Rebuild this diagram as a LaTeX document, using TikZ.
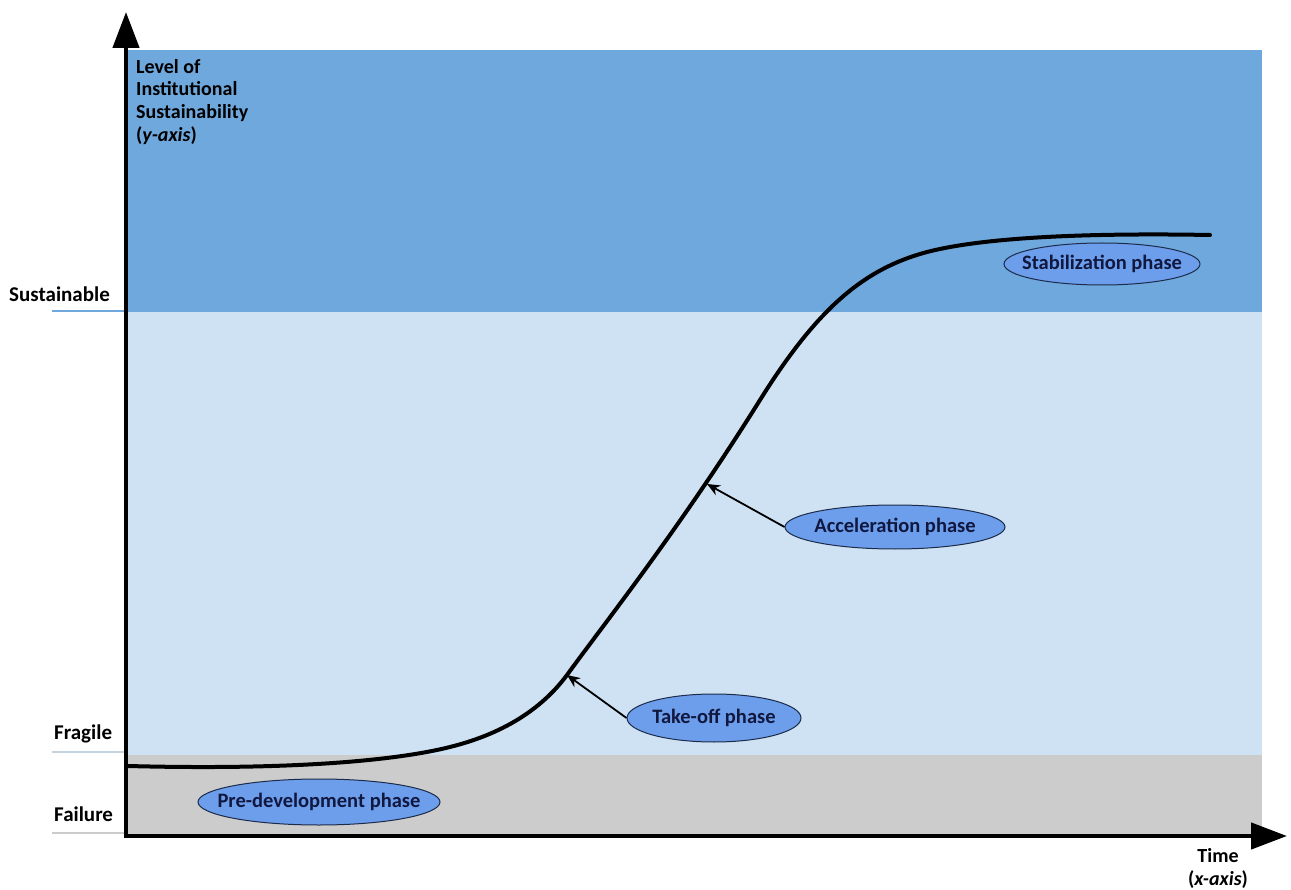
\documentclass[tikz,border=0pt]{standalone}
\usepackage{fontspec}
\setmainfont{Carlito}
\usetikzlibrary{shapes.geometric,arrows.meta}
\definecolor{darkband}{HTML}{6FA8DC}
\definecolor{lightband}{HTML}{CFE2F3}
\definecolor{grayband}{HTML}{CCCCCC}
\definecolor{ellfill}{HTML}{6D9EEB}
\definecolor{ellline}{HTML}{1C2B4A}
\definecolor{elltext}{HTML}{101840}
\newcommand\phtext[1]{\makebox[0pt]{#1}}
\begin{document}
\begin{tikzpicture}[x=1pt,y=-1pt,
  phase/.style={ellipse,draw=ellline,line width=1pt,fill=ellfill,inner sep=0pt,
    font=\fontsize{20.5}{24}\selectfont\bfseries,text=elltext},
  lvl/.style={font=\fontsize{21}{24}\selectfont\bfseries,anchor=west,inner sep=0pt},
  axis/.style={line width=4.5pt,-{Triangle[width=26pt,length=36pt]}},
  pointer/.style={line width=1.8pt,-{Stealth[width=11pt,length=13pt]}}]
\useasboundingbox (0,0) rectangle (1291,890);
% bands
\fill[darkband] (128,50) rectangle (1262,312);
\fill[lightband] (128,312) rectangle (1262,755);
\fill[grayband] (128,755) rectangle (1262,834);
% level ticks
\coordinate (ts1) at (52,311); \coordinate (ts2) at (124,311);
\coordinate (tf1) at (52,752); \coordinate (tf2) at (124,752);
\coordinate (tl1) at (52,833); \coordinate (tl2) at (124,833);
\draw[darkband,line width=2pt] (ts1) -- (ts2);
\draw[lightband!85!gray,line width=2pt] (tf1) -- (tf2);
\draw[grayband,line width=2pt] (tl1) -- (tl2);
\node[lvl] (sust) at (9,294) {Sustainable};
\node[lvl] (frag) at (54,734) {Fragile};
\node[lvl] (fail) at (54,814) {Failure};
% axes
\coordinate (ytip) at (126,12);
\coordinate (xtip) at (1287,836);
\draw[axis] (126,838) -- (ytip);
\draw[axis] (124,836) -- (xtip);
% axis labels
\node[font=\fontsize{20}{22.7}\selectfont\bfseries,align=left,anchor=north west,inner sep=0pt] (ylab) at (136,59)
  {Level of\\Institutional\\Sustainability\\(\textit{y-axis})};
\node[font=\fontsize{20}{23}\selectfont\bfseries,align=center,anchor=north,inner sep=0pt] (xlab) at (1218,848)
  {Time\\(\textit{x-axis})};
% curve
\coordinate (c0) at (128,766);
\coordinate (c1) at (450,747);
\coordinate (tko) at (567,675);
\coordinate (c2) at (760,400);
\coordinate (c3) at (920,254);
\coordinate (c4) at (1210,235);
\draw[line width=4pt,line cap=round]
  (c0) .. controls (280,770) and (390,762) .. (c1)
       .. controls (502,734) and (541,710) .. (tko)
       .. controls (607,620) and (680,528) .. (c2)
       .. controls (815,312) and (860,272) .. (c3)
       .. controls (980,236) and (1100,233) .. (c4);
\coordinate (acc) at (707,484);
% phases
\node[phase,minimum width=196pt,minimum height=42pt] (stab) at (1102,264) {\phtext{Stabilization phase}};
\node[phase,minimum width=220pt,minimum height=44pt] (accel) at (895,527) {\phtext{Acceleration phase}};
\node[phase,minimum width=174pt,minimum height=48pt] (take) at (714,718) {\phtext{Take-off phase}};
\node[phase,minimum width=242pt,minimum height=46pt] (pre) at (319,802) {\phtext{Pre-development phase}};
\draw[pointer] (accel.west) -- (acc);
\draw[pointer] (take.west) -- (tko);
\end{tikzpicture}
\end{document}
